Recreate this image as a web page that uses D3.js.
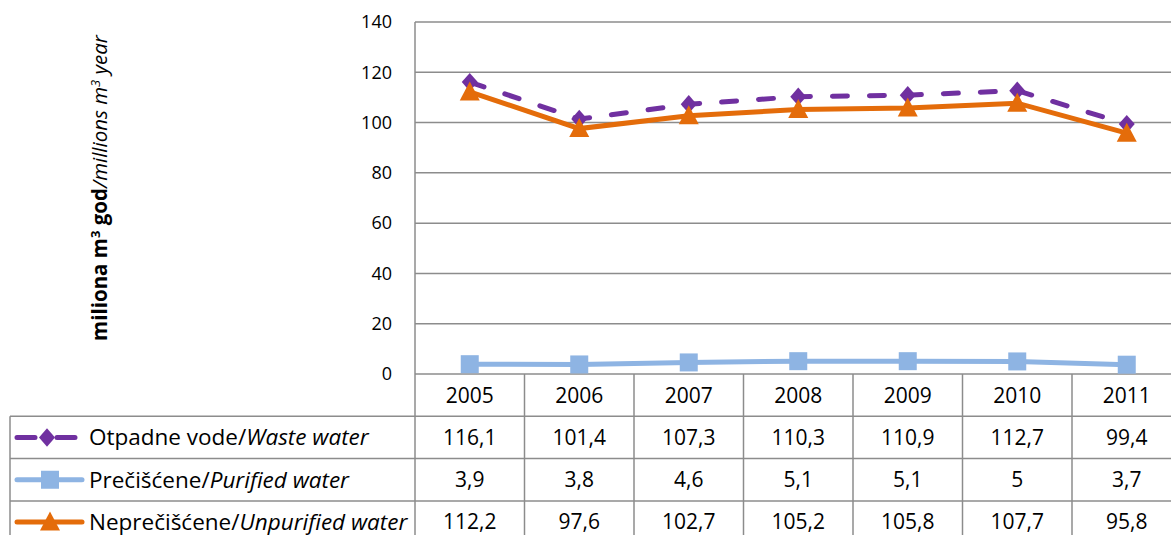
<!DOCTYPE html>
<html>
<head>
<meta charset="utf-8">
<script src="https://cdn.jsdelivr.net/npm/d3@7"></script>
<style>
  body { margin: 0; background: #fff; }
  text { font-family: "Open Sans", "Noto Sans", sans-serif; fill: #000; }
</style>
</head>
<body>
<div id="chart"></div>
<script>
var width = 1171,
    height = 535;

// data
var years = ["2005", "2006", "2007", "2008", "2009", "2010", "2011"];
var wasteWater = [116.1, 101.4, 107.3, 110.3, 110.9, 112.7, 99.4];
var purifiedWater = [3.9, 3.8, 4.6, 5.1, 5.1, 5, 3.7];
var unpurifiedWater = [112.2, 97.6, 102.7, 105.2, 105.8, 107.7, 95.8];
var yTicks = [0, 20, 40, 60, 80, 100, 120, 140];

var series = [
  { plain: "Otpadne vode/", italic: "Waste water", values: wasteWater, color: "#7030a0", marker: "diamond", dash: "15,22" },
  { plain: "Prečišćene/", italic: "Purified water", values: purifiedWater, color: "#8eb4e3", marker: "square", dash: null },
  { plain: "Neprečišćene/", italic: "Unpurified water", values: unpurifiedWater, color: "#e46c0a", marker: "triangle", dash: null }
];

var plotLeft = 415, plotTop = 22, plotBottom = 374, colW = 109.5, rowH = 42.3;
var tableLeft = 10;
var gridColor = "#8c8c8c";

var svg = d3.select("#chart")
    .append("svg")
    .attr("width", width)
    .attr("height", height);

var x = d3.scaleBand()
    .domain(years)
    .range([plotLeft, plotLeft + colW * years.length]);

var y = d3.scaleLinear()
    .domain([0, 140])
    .range([plotBottom, plotTop]);

// gridlines
svg.append("g").selectAll("line")
    .data(yTicks)
  .enter().append("line")
    .attr("x1", plotLeft)
    .attr("x2", width)
    .attr("y1", function(d) { return y(d); })
    .attr("y2", function(d) { return y(d); })
    .attr("stroke", gridColor)
    .attr("stroke-width", 1.5);

// y tick labels
svg.append("g").selectAll("text")
    .data(yTicks)
  .enter().append("text")
    .attr("x", 392)
    .attr("y", function(d) { return y(d); })
    .attr("dy", "0.35em")
    .attr("text-anchor", "end")
    .style("font-size", "18px")
    .text(function(d) { return d; });

// y axis title
var title = svg.append("text")
    .attr("transform", "translate(107,188) rotate(-90)")
    .attr("text-anchor", "middle")
    .style("font-size", "20.5px");
title.append("tspan").style("font-weight", "bold").text("miliona m");
title.append("tspan").style("font-weight", "bold").style("font-size", "13px").attr("dy", -7).text("3");
title.append("tspan").style("font-weight", "bold").attr("dy", 7).text(" god");
title.append("tspan").style("font-style", "italic").text("/millions m");
title.append("tspan").style("font-style", "italic").style("font-size", "13px").attr("dy", -7).text("3");
title.append("tspan").style("font-style", "italic").attr("dy", 7).text(" year");

// table
var tableBottom = plotBottom + rowH * 4;
var table = svg.append("g");

// vertical axis line + column dividers
table.selectAll(".col")
    .data(years)
  .enter().append("line")
    .attr("x1", function(d) { return x(d); })
    .attr("x2", function(d) { return x(d); })
    .attr("y1", function(d, i) { return i === 0 ? plotTop : plotBottom; })
    .attr("y2", tableBottom)
    .attr("stroke", gridColor)
    .attr("stroke-width", 1.5);

// horizontal row lines
table.selectAll(".row")
    .data([1, 2, 3, 4])
  .enter().append("line")
    .attr("x1", tableLeft)
    .attr("x2", width)
    .attr("y1", function(d) { return plotBottom + rowH * d; })
    .attr("y2", function(d) { return plotBottom + rowH * d; })
    .attr("stroke", gridColor)
    .attr("stroke-width", 1.5);

table.append("line")
    .attr("x1", tableLeft).attr("x2", tableLeft)
    .attr("y1", plotBottom + rowH).attr("y2", tableBottom)
    .attr("stroke", gridColor)
    .attr("stroke-width", 1.5);

// year header
table.selectAll(".year")
    .data(years)
  .enter().append("text")
    .attr("x", function(d) { return x(d) + x.bandwidth() / 2; })
    .attr("y", plotBottom + rowH / 2)
    .attr("dy", "0.35em")
    .attr("text-anchor", "middle")
    .style("font-size", "21px")
    .text(function(d) { return d; });

var fmt = function(v) { return String(v).replace(".", ","); };

function drawMarker(g, type, color, cx, cy, s) {
  if (type === "diamond") {
    g.append("path")
      .attr("d", "M" + cx + "," + (cy - s * 1.15) + "L" + (cx + s) + "," + cy + "L" + cx + "," + (cy + s * 1.15) + "L" + (cx - s) + "," + cy + "Z")
      .attr("fill", color);
  } else if (type === "square") {
    g.append("rect")
      .attr("x", cx - s).attr("y", cy - s)
      .attr("width", s * 2).attr("height", s * 2)
      .attr("fill", color);
  } else {
    g.append("path")
      .attr("d", "M" + cx + "," + (cy - s * 1.05) + "L" + (cx + s) + "," + (cy + s * 0.85) + "L" + (cx - s) + "," + (cy + s * 0.85) + "Z")
      .attr("fill", color);
  }
}

var markerSize = { diamond: 8, square: 9, triangle: 10 };

series.forEach(function(s, si) {
  var rowY = plotBottom + rowH * (si + 1) + rowH / 2;

  // values in table
  table.selectAll(".v" + si)
      .data(s.values)
    .enter().append("text")
      .attr("x", function(d, i) { return x(years[i]) + x.bandwidth() / 2; })
      .attr("y", rowY)
      .attr("dy", "0.35em")
      .attr("text-anchor", "middle")
      .style("font-size", "21px")
      .text(fmt);

  // legend key
  var key = table.append("g");
  key.append("line")
    .attr("x1", 17).attr("x2", s.marker === "diamond" ? 75 : 82)
    .attr("y1", rowY).attr("y2", rowY)
    .attr("stroke", s.color)
    .attr("stroke-width", 5)
    .attr("stroke-linecap", "round")
    .attr("stroke-dasharray", s.dash ? "18,22" : null);
  drawMarker(key, s.marker, s.color, s.marker === "diamond" ? 47 : 50, rowY, markerSize[s.marker]);

  var label = table.append("text")
    .attr("x", 89)
    .attr("y", rowY)
    .attr("dy", "0.35em")
    .style("font-size", "22.5px");
  label.append("tspan").text(s.plain);
  label.append("tspan").style("font-style", "italic").text(s.italic);

  // line
  var line = d3.line()
    .x(function(d, i) { return x(years[i]) + x.bandwidth() / 2; })
    .y(function(d) { return y(d); });

  var g = svg.append("g");
  g.append("path")
    .datum(s.values)
    .attr("d", line)
    .attr("fill", "none")
    .attr("stroke", s.color)
    .attr("stroke-width", 5)
    .attr("stroke-linecap", s.dash ? "round" : "butt")
    .attr("stroke-dasharray", s.dash);

  s.values.forEach(function(v, i) {
    drawMarker(g, s.marker, s.color, x(years[i]) + x.bandwidth() / 2, y(v), markerSize[s.marker]);
  });
});
</script>
</body>
</html>
